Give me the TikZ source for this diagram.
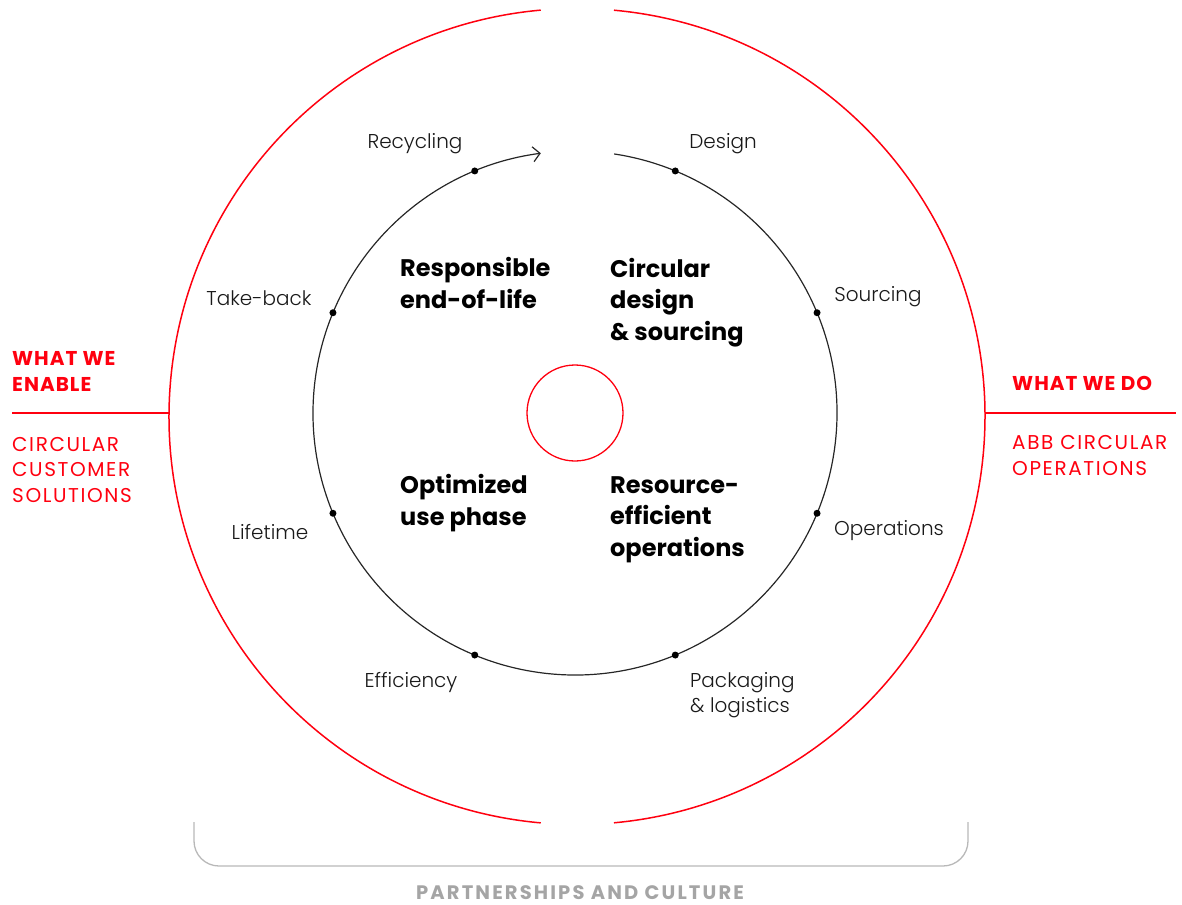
\documentclass[tikz,border=0pt]{standalone}
\usepackage{fontspec}
\setmainfont{Poppins}
\newfontfamily\lightfont{Poppins Light}
\newfontfamily\capsfont{Poppins}[LetterSpace=8]
\newfontfamily\capsboldfont{Poppins Bold}[LetterSpace=5]
\newfontfamily\footfont{Poppins Bold}[LetterSpace=11]
\usetikzlibrary{arrows.meta}
\definecolor{abbred}{RGB}{255,0,15}
\definecolor{bracketgray}{RGB}{184,184,184}
\definecolor{footgray}{RGB}{165,165,165}
\tikzset{
  ring/.style={draw=abbred, line width=1.5pt},
  cycle/.style={draw=black!85, line width=1.2pt},
  stagedot/.style={circle, fill=black, inner sep=0pt, minimum size=7pt},
  stagelabel/.style={font=\lightfont\fontsize{20}{25}\selectfont, text=black!90, inner sep=0pt, anchor=base, align=left},
  pillar/.style={font=\bfseries\fontsize{24}{31.5}\selectfont, inner sep=0pt, anchor=base west, align=left},
  sidehead/.style={font=\capsboldfont\fontsize{20}{25.5}\selectfont, text=abbred, inner sep=0pt, anchor=base west, align=left},
  sidetext/.style={font=\capsfont\fontsize{20}{25.5}\selectfont, text=abbred, inner sep=0pt, anchor=base west, align=left},
}
\begin{document}
\begin{tikzpicture}[x=1pt, y=-1pt]
\useasboundingbox (0,0) rectangle (1182,904);

% outer red ring, open at top and bottom
\coordinate (oc) at (577,416.5);
\draw[ring] ([shift={(-84.8:408)}]oc) arc[start angle=-84.8, end angle=84.8, radius=408];
\draw[ring] ([shift={(95.1:408)}]oc) arc[start angle=95.1, end angle=264.9, radius=408];

% inner cycle with arrow
\coordinate (ic) at (575,413);
\draw[cycle, -{Straight Barb[length=7pt, width=15pt, line width=1.2pt]}]
  ([shift={(-81.4:262)}]ic) arc[start angle=-81.4, end angle=262.5, radius=262];

% hub
\node[circle, draw=abbred, line width=1.3pt, minimum size=96pt, inner sep=0pt] (hub) at (ic) {};

% stage dots
\foreach \a/\n in {-67.5/design, -22.5/sourcing, 22.5/operations, 67.5/packaging,
                   112.5/efficiency, 157.5/lifetime, 202.5/takeback, 247.5/recycling}
  \node[stagedot] (d-\n) at ([shift={(\a:262)}]ic) {};

% stage labels (multi-line nodes sit on the baseline of their last line)
\node[stagelabel] (l-recycling) at (415,149) {Recycling};
\node[stagelabel] (l-design) at (723,149) {Design};
\node[stagelabel] (l-sourcing) at (878,301) {Sourcing};
\node[stagelabel] (l-takeback) at (259,305) {Take-back};
\node[stagelabel] (l-lifetime) at (270,539) {Lifetime};
\node[stagelabel] (l-operations) at (889,535) {Operations};
\node[stagelabel] (l-efficiency) at (411,687) {Efficiency};
\node[stagelabel, anchor=base west] (l-packaging) at (690,712) {Packaging\\\& logistics};

% pillars
\node[pillar] (p-eol) at (400,308) {Responsible\\end-of-life};
\node[pillar] (p-design) at (610,340) {Circular\\design\\\& sourcing};
\node[pillar] (p-use) at (400,525) {Optimized\\use phase};
\node[pillar] (p-ops) at (610,556) {Resource-\\efficient\\operations};

% side captions
\draw[draw=abbred, line width=1.3pt] (12,413) -- (169,413);
\draw[draw=abbred, line width=1.3pt] (985,413) -- (1176,413);
\node[sidehead] (enable) at (12,391) {WHAT WE\\ENABLE};
\node[sidetext] (customer) at (12,502) {CIRCULAR\\CUSTOMER\\SOLUTIONS};
\node[sidehead] (do) at (1012,390) {WHAT WE DO};
\node[sidetext] (abbops) at (1012,475) {ABB CIRCULAR\\OPERATIONS};

% foundation bracket
\draw[draw=bracketgray, line width=1.3pt, rounded corners=25pt]
  (194,822) -- (194,866) -- (968,866) -- (968,822);
\node[font=\footfont\fontsize{19.5}{24}\selectfont, text=footgray, inner sep=0pt, text depth=0pt, anchor=base] (culture) at (580,899) {PARTNERSHIPS AND CULTURE};
\end{tikzpicture}
\end{document}
